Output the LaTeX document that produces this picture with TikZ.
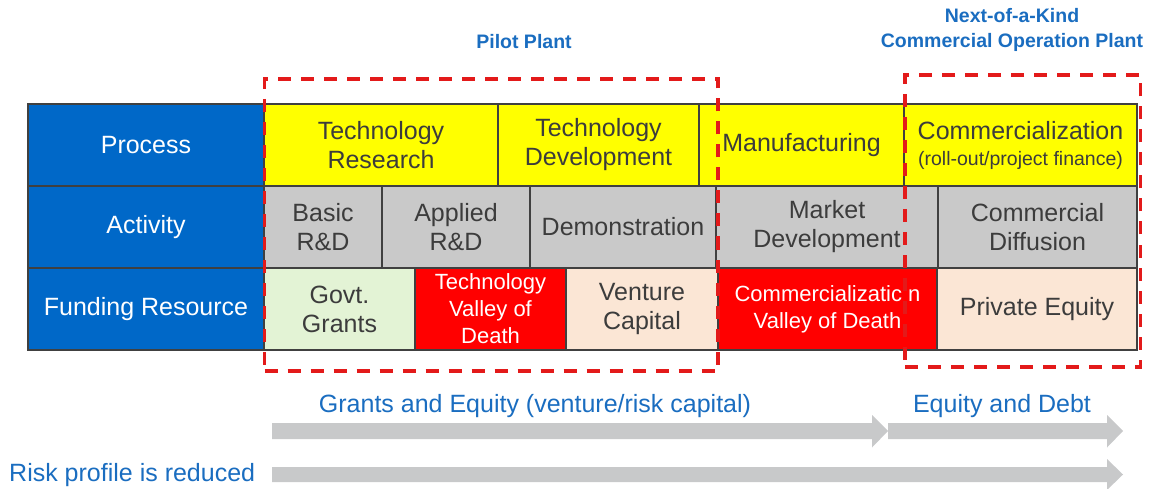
\documentclass[tikz,border=0pt]{standalone}
\usepackage{fontspec}
\setmainfont{Liberation Sans}
\definecolor{hdrblue}{HTML}{0068C8}
\definecolor{procyellow}{HTML}{FFFF00}
\definecolor{actgray}{HTML}{C9C9C9}
\definecolor{grantgreen}{HTML}{E3F3D5}
\definecolor{peach}{HTML}{FBE6D5}
\definecolor{deathred}{HTML}{FF0000}
\definecolor{cellline}{HTML}{404040}
\definecolor{txtgray}{HTML}{3C3C3C}
\definecolor{titleblue}{HTML}{1A6DC0}
\definecolor{dashred}{HTML}{E31A1A}
\definecolor{arrowgray}{HTML}{C8C9CA}
\begin{document}
\begin{tikzpicture}[x=1pt,y=-1pt,
  cell/.style={draw=cellline, line width=1.2pt, inner sep=0pt, align=center,
    minimum height=82pt, font=\fontsize{25}{29}\selectfont, text=txtgray},
  hdr/.style={cell, fill=hdrblue, text=white},
  proc/.style={cell, fill=procyellow},
  act/.style={cell, fill=actgray},
  grant/.style={cell, fill=grantgreen},
  equity/.style={cell, fill=peach},
  death/.style={cell, fill=deathred, text=white, font=\fontsize{22}{27}\selectfont},
  reddash/.style={draw=dashred, line width=3.5pt, dash pattern=on 13pt off 10pt, inner sep=0pt, minimum height=292pt},
  ttl/.style={text=titleblue, font=\bfseries\fontsize{19.5}{24}\selectfont, inner sep=0pt, anchor=base},
  lowtxt/.style={text=titleblue, font=\fontsize{25}{29}\selectfont, inner sep=0pt, anchor=base},
  flowarrow/.style={fill=arrowgray}
]
\useasboundingbox (0,0) rectangle (1151,489);

% header column
\node[hdr, minimum width=236pt] (hp) at (146,145) {Process};
\node[hdr, minimum width=236pt] (ha) at (146,227) {Activity};
\node[hdr, minimum width=236pt] (hf) at (146,309) {Funding Resource};

% process row
\node[proc, minimum width=234pt] (p1) at (381,145) {Technology\\Research};
\node[proc, minimum width=201pt] (p2) at (598.5,145) {Technology\\Development};
\node[proc, minimum width=205pt] (p3) at (801.5,145) {Manufacturing};
\node[proc, minimum width=233pt] (p4) at (1020.5,145) {Commercialization\\[-3pt]{\fontsize{19.5}{22}\selectfont (roll-out/project finance)}};

% activity row
\node[act, minimum width=118pt] (a1) at (323,227) {Basic\\R\&D};
\node[act, minimum width=148pt] (a2) at (456,227) {Applied\\R\&D};
\node[act, minimum width=186pt] (a3) at (623,227) {Demonstration};
\node[act, minimum width=222pt] (a4) at (827,227) {Market\\Development};
\node[act, minimum width=199pt] (a5) at (1037.5,227) {Commercial\\Diffusion};

% funding row
\node[grant, minimum width=151pt] (f1) at (339.5,309) {Govt.\\Grants};
\node[death, minimum width=151pt] (f2) at (490.5,309) {Technology\\Valley of\\Death};
\node[equity, minimum width=152pt] (f3) at (642,309) {Venture\\Capital};
\node[death, minimum width=219pt] (f4) at (827.5,309) {Commercializatic n\\Valley of Death};
\node[equity, minimum width=200pt] (f5) at (1037,309) {Private Equity};

% dashed stage boxes
\node[reddash, minimum width=453.5pt] (pilot) at (491.25,225) {};
\node[reddash, minimum width=235.5pt] (noak) at (1022.75,221) {};

% titles
\node[ttl] (tpilot) at (524,49) {Pilot Plant};
\node[ttl] (tnoak1) at (1012,23) {Next-of-a-Kind};
\node[ttl] (tnoak2) at (1012,48) {Commercial Operation Plant};

% bottom arrows
\fill[flowarrow] (272,423) -- (872,423) -- (872,415) -- (888,431) -- (872,447.5) -- (872,439) -- (272,439) -- cycle;
\fill[flowarrow] (888,423) -- (1107,423) -- (1107,415) -- (1123,431) -- (1107,447.5) -- (1107,439) -- (888,439) -- cycle;
\fill[flowarrow] (272,467) -- (1107,467) -- (1107,459) -- (1123,474.5) -- (1107,490) -- (1107,482) -- (272,482) -- cycle;

\node[lowtxt] (lgrants) at (535,412) {Grants and Equity (venture/risk capital)};
\node[lowtxt] (ldebt) at (1002,412) {Equity and Debt};
\node[lowtxt, anchor=base west] (lrisk) at (9,481) {Risk profile is reduced};
\end{tikzpicture}
\end{document}
